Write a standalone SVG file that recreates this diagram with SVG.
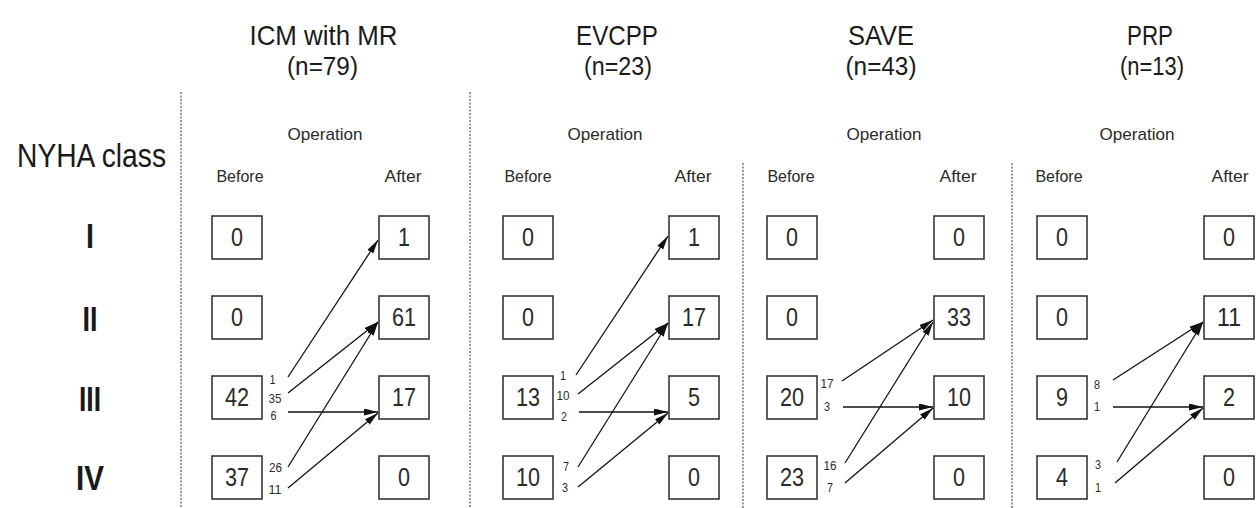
<svg xmlns="http://www.w3.org/2000/svg" width="1256" height="508" viewBox="0 0 1256 508">
<style>
text{font-family:"Liberation Sans",Arial,sans-serif;fill:#1a1a1a}
.hd{font-size:28px;text-anchor:middle}
.hn{font-size:26px;text-anchor:middle}
.ny{font-size:33px}
.rn{font-size:35px;font-weight:bold;text-anchor:middle}
.op{font-size:17px;text-anchor:middle;fill:#2a2a2a}
.ba{font-size:16px;text-anchor:middle;fill:#2a2a2a}
.box rect{fill:#fff;stroke:#2a2a2a;stroke-width:1.5}
.num{font-size:26px;text-anchor:middle;fill:#2a2a2a}
.lbl{font-size:13.5px;text-anchor:middle;fill:#2a2a2a}
.conn line{stroke:#111;stroke-width:1.3;marker-end:url(#ah)}
.dash{stroke:#555;stroke-width:1.2;stroke-dasharray:2 1.5;fill:none}
</style>
<defs>
<marker id="ah" markerUnits="userSpaceOnUse" markerWidth="16" markerHeight="8" refX="14" refY="3.5" orient="auto">
<path d="M0,0 L14,3.5 L0,7 z" fill="#111"/>
</marker>
</defs>
<rect width="1256" height="508" fill="#fff"/>

<g id="headers">
<text class="hd" x="323.5" y="45" textLength="148" lengthAdjust="spacingAndGlyphs">ICM with MR</text>
<text class="hn" x="322.5" y="75" textLength="71" lengthAdjust="spacingAndGlyphs">(n=79)</text>
<text class="hd" x="617" y="45" textLength="82" lengthAdjust="spacingAndGlyphs">EVCPP</text>
<text class="hn" x="618" y="75" textLength="68" lengthAdjust="spacingAndGlyphs">(n=23)</text>
<text class="hd" x="881" y="45" textLength="66" lengthAdjust="spacingAndGlyphs">SAVE</text>
<text class="hn" x="881" y="75" textLength="71" lengthAdjust="spacingAndGlyphs">(n=43)</text>
<text class="hd" x="1150" y="45" textLength="46" lengthAdjust="spacingAndGlyphs">PRP</text>
<text class="hn" x="1152" y="75" textLength="64" lengthAdjust="spacingAndGlyphs">(n=13)</text>
</g>

<g id="row-labels">
<text class="ny" x="17" y="167" textLength="149" lengthAdjust="spacingAndGlyphs">NYHA class</text>
<text class="rn" x="90" y="248" textLength="8" lengthAdjust="spacingAndGlyphs">I</text>
<text class="rn" x="90" y="331" textLength="15" lengthAdjust="spacingAndGlyphs">II</text>
<text class="rn" x="90" y="411" textLength="22" lengthAdjust="spacingAndGlyphs">III</text>
<text class="rn" x="90" y="490" textLength="28" lengthAdjust="spacingAndGlyphs">IV</text>
</g>

<g id="dividers">
<line class="dash" x1="181" y1="92" x2="181" y2="508"/>
<line class="dash" x1="470" y1="92" x2="470" y2="508"/>
<line class="dash" x1="743" y1="163" x2="743" y2="508"/>
<line class="dash" x1="1012" y1="163" x2="1012" y2="508"/>
</g>

<g id="column-labels">
<text class="op" x="325" y="140" textLength="75" lengthAdjust="spacingAndGlyphs">Operation</text>
<text class="op" x="605" y="140" textLength="75" lengthAdjust="spacingAndGlyphs">Operation</text>
<text class="op" x="884" y="140" textLength="75" lengthAdjust="spacingAndGlyphs">Operation</text>
<text class="op" x="1137" y="140" textLength="75" lengthAdjust="spacingAndGlyphs">Operation</text>
<text class="ba" x="240" y="182">Before</text>
<text class="ba" x="403" y="182" textLength="37" lengthAdjust="spacingAndGlyphs">After</text>
<text class="ba" x="528" y="182">Before</text>
<text class="ba" x="693" y="182" textLength="37" lengthAdjust="spacingAndGlyphs">After</text>
<text class="ba" x="791" y="182">Before</text>
<text class="ba" x="958" y="182" textLength="37" lengthAdjust="spacingAndGlyphs">After</text>
<text class="ba" x="1059" y="182">Before</text>
<text class="ba" x="1230" y="182" textLength="37" lengthAdjust="spacingAndGlyphs">After</text>
</g>

<!-- Panel 1: ICM with MR -->
<g id="icm-before-I" class="box"><rect x="212" y="216" width="50" height="43"/><text class="num" x="237" y="246" textLength="12" lengthAdjust="spacingAndGlyphs">0</text></g>
<g id="icm-before-II" class="box"><rect x="212" y="296" width="50" height="43"/><text class="num" x="237" y="326" textLength="12" lengthAdjust="spacingAndGlyphs">0</text></g>
<g id="icm-before-III" class="box"><rect x="212" y="376" width="50" height="43"/><text class="num" x="237" y="406" textLength="24" lengthAdjust="spacingAndGlyphs">42</text></g>
<g id="icm-before-IV" class="box"><rect x="212" y="456" width="50" height="43"/><text class="num" x="237" y="486" textLength="24" lengthAdjust="spacingAndGlyphs">37</text></g>
<g id="icm-after-I" class="box"><rect x="379" y="216" width="50" height="43"/><text class="num" x="404" y="246" textLength="12" lengthAdjust="spacingAndGlyphs">1</text></g>
<g id="icm-after-II" class="box"><rect x="379" y="296" width="50" height="43"/><text class="num" x="404" y="326" textLength="24" lengthAdjust="spacingAndGlyphs">61</text></g>
<g id="icm-after-III" class="box"><rect x="379" y="376" width="50" height="43"/><text class="num" x="404" y="406" textLength="24" lengthAdjust="spacingAndGlyphs">17</text></g>
<g id="icm-after-IV" class="box"><rect x="379" y="456" width="50" height="43"/><text class="num" x="404" y="486" textLength="12" lengthAdjust="spacingAndGlyphs">0</text></g>

<!-- Panel 2: EVCPP -->
<g id="evcpp-before-I" class="box"><rect x="503" y="216" width="50" height="43"/><text class="num" x="528" y="246" textLength="12" lengthAdjust="spacingAndGlyphs">0</text></g>
<g id="evcpp-before-II" class="box"><rect x="503" y="296" width="50" height="43"/><text class="num" x="528" y="326" textLength="12" lengthAdjust="spacingAndGlyphs">0</text></g>
<g id="evcpp-before-III" class="box"><rect x="503" y="376" width="50" height="43"/><text class="num" x="528" y="406" textLength="24" lengthAdjust="spacingAndGlyphs">13</text></g>
<g id="evcpp-before-IV" class="box"><rect x="503" y="456" width="50" height="43"/><text class="num" x="528" y="486" textLength="24" lengthAdjust="spacingAndGlyphs">10</text></g>
<g id="evcpp-after-I" class="box"><rect x="669" y="216" width="50" height="43"/><text class="num" x="694" y="246" textLength="12" lengthAdjust="spacingAndGlyphs">1</text></g>
<g id="evcpp-after-II" class="box"><rect x="669" y="296" width="50" height="43"/><text class="num" x="694" y="326" textLength="24" lengthAdjust="spacingAndGlyphs">17</text></g>
<g id="evcpp-after-III" class="box"><rect x="669" y="376" width="50" height="43"/><text class="num" x="694" y="406" textLength="12" lengthAdjust="spacingAndGlyphs">5</text></g>
<g id="evcpp-after-IV" class="box"><rect x="669" y="456" width="50" height="43"/><text class="num" x="694" y="486" textLength="12" lengthAdjust="spacingAndGlyphs">0</text></g>

<!-- Panel 3: SAVE -->
<g id="save-before-I" class="box"><rect x="767" y="216" width="50" height="43"/><text class="num" x="792" y="246" textLength="12" lengthAdjust="spacingAndGlyphs">0</text></g>
<g id="save-before-II" class="box"><rect x="767" y="296" width="50" height="43"/><text class="num" x="792" y="326" textLength="12" lengthAdjust="spacingAndGlyphs">0</text></g>
<g id="save-before-III" class="box"><rect x="767" y="376" width="50" height="43"/><text class="num" x="792" y="406" textLength="24" lengthAdjust="spacingAndGlyphs">20</text></g>
<g id="save-before-IV" class="box"><rect x="767" y="456" width="50" height="43"/><text class="num" x="792" y="486" textLength="24" lengthAdjust="spacingAndGlyphs">23</text></g>
<g id="save-after-I" class="box"><rect x="934" y="216" width="50" height="43"/><text class="num" x="959" y="246" textLength="12" lengthAdjust="spacingAndGlyphs">0</text></g>
<g id="save-after-II" class="box"><rect x="934" y="296" width="50" height="43"/><text class="num" x="959" y="326" textLength="24" lengthAdjust="spacingAndGlyphs">33</text></g>
<g id="save-after-III" class="box"><rect x="934" y="376" width="50" height="43"/><text class="num" x="959" y="406" textLength="24" lengthAdjust="spacingAndGlyphs">10</text></g>
<g id="save-after-IV" class="box"><rect x="934" y="456" width="50" height="43"/><text class="num" x="959" y="486" textLength="12" lengthAdjust="spacingAndGlyphs">0</text></g>

<!-- Panel 4: PRP -->
<g id="prp-before-I" class="box"><rect x="1037" y="216" width="50" height="43"/><text class="num" x="1062" y="246" textLength="12" lengthAdjust="spacingAndGlyphs">0</text></g>
<g id="prp-before-II" class="box"><rect x="1037" y="296" width="50" height="43"/><text class="num" x="1062" y="326" textLength="12" lengthAdjust="spacingAndGlyphs">0</text></g>
<g id="prp-before-III" class="box"><rect x="1037" y="376" width="50" height="43"/><text class="num" x="1062" y="406" textLength="12" lengthAdjust="spacingAndGlyphs">9</text></g>
<g id="prp-before-IV" class="box"><rect x="1037" y="456" width="50" height="43"/><text class="num" x="1062" y="486" textLength="12" lengthAdjust="spacingAndGlyphs">4</text></g>
<g id="prp-after-I" class="box"><rect x="1204" y="216" width="50" height="43"/><text class="num" x="1229" y="246" textLength="12" lengthAdjust="spacingAndGlyphs">0</text></g>
<g id="prp-after-II" class="box"><rect x="1204" y="296" width="50" height="43"/><text class="num" x="1229" y="326" textLength="24" lengthAdjust="spacingAndGlyphs">11</text></g>
<g id="prp-after-III" class="box"><rect x="1204" y="376" width="50" height="43"/><text class="num" x="1229" y="406" textLength="12" lengthAdjust="spacingAndGlyphs">2</text></g>
<g id="prp-after-IV" class="box"><rect x="1204" y="456" width="50" height="43"/><text class="num" x="1229" y="486" textLength="12" lengthAdjust="spacingAndGlyphs">0</text></g>

<g id="connectors" class="conn">
<line x1="288" y1="377" x2="378" y2="240"/>
<line x1="288" y1="393" x2="378" y2="322"/>
<line x1="288" y1="412" x2="378" y2="412"/>
<line x1="288" y1="467" x2="378" y2="322"/>
<line x1="288" y1="488" x2="378" y2="413"/>

<line x1="576" y1="375" x2="668" y2="236"/>
<line x1="578" y1="394" x2="668" y2="323"/>
<line x1="579" y1="412" x2="668" y2="412"/>
<line x1="578" y1="467" x2="668" y2="323"/>
<line x1="578" y1="487" x2="668" y2="413"/>

<line x1="842" y1="381" x2="933" y2="320"/>
<line x1="843" y1="407" x2="933" y2="407"/>
<line x1="845" y1="463" x2="933" y2="322"/>
<line x1="845" y1="483" x2="933" y2="408"/>

<line x1="1113" y1="380" x2="1203" y2="322"/>
<line x1="1113" y1="407" x2="1203" y2="407"/>
<line x1="1117" y1="462" x2="1203" y2="322"/>
<line x1="1115" y1="483" x2="1203" y2="408"/>
</g>

<g id="flow-labels">
<text class="lbl" x="272.5" y="384" textLength="6" lengthAdjust="spacingAndGlyphs">1</text>
<text class="lbl" x="275" y="403" textLength="13" lengthAdjust="spacingAndGlyphs">35</text>
<text class="lbl" x="273.5" y="420" textLength="6" lengthAdjust="spacingAndGlyphs">6</text>
<text class="lbl" x="275.5" y="472" textLength="13" lengthAdjust="spacingAndGlyphs">26</text>
<text class="lbl" x="275" y="494" textLength="13" lengthAdjust="spacingAndGlyphs">11</text>

<text class="lbl" x="563" y="380" textLength="6" lengthAdjust="spacingAndGlyphs">1</text>
<text class="lbl" x="563" y="400" textLength="13" lengthAdjust="spacingAndGlyphs">10</text>
<text class="lbl" x="564" y="421" textLength="6" lengthAdjust="spacingAndGlyphs">2</text>
<text class="lbl" x="566" y="471" textLength="6" lengthAdjust="spacingAndGlyphs">7</text>
<text class="lbl" x="565" y="492" textLength="6" lengthAdjust="spacingAndGlyphs">3</text>

<text class="lbl" x="827" y="388" textLength="13" lengthAdjust="spacingAndGlyphs">17</text>
<text class="lbl" x="827" y="411" textLength="6" lengthAdjust="spacingAndGlyphs">3</text>
<text class="lbl" x="830" y="470" textLength="13" lengthAdjust="spacingAndGlyphs">16</text>
<text class="lbl" x="830" y="492" textLength="6" lengthAdjust="spacingAndGlyphs">7</text>

<text class="lbl" x="1097" y="389" textLength="6" lengthAdjust="spacingAndGlyphs">8</text>
<text class="lbl" x="1097" y="411" textLength="6" lengthAdjust="spacingAndGlyphs">1</text>
<text class="lbl" x="1098" y="469" textLength="6" lengthAdjust="spacingAndGlyphs">3</text>
<text class="lbl" x="1098" y="492" textLength="6" lengthAdjust="spacingAndGlyphs">1</text>
</g>
</svg>
